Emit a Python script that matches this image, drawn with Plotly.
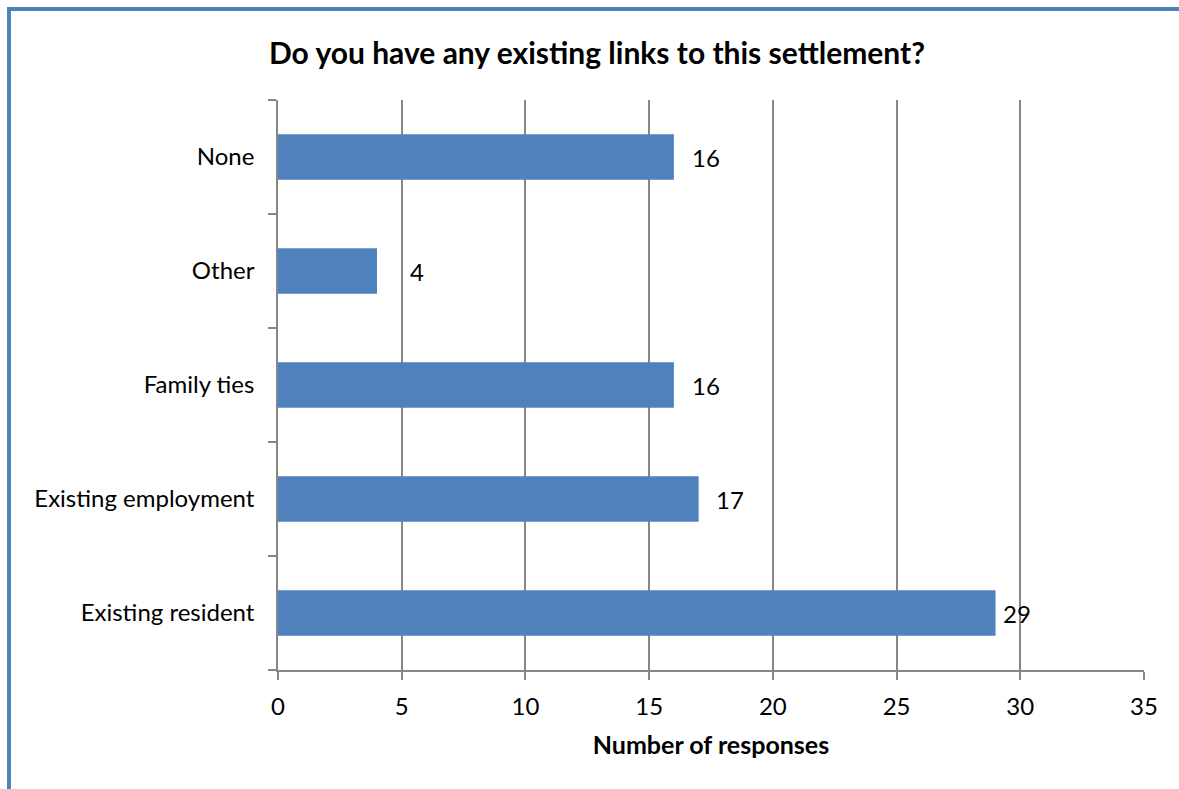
import plotly.graph_objects as go

categories = ["Existing resident", "Existing employment", "Family ties", "Other", "None"]
values = [29, 17, 16, 4, 16]
x_ticks = [0, 5, 10, 15, 20, 25, 30, 35]

W, H = 1179, 789
L, R, T, B = 278, 35, 100, 119
pw, ph = W - L - R, H - T - B

def px_x(p):
    return (p - L) / pw

def px_y(p):
    return (H - B - p) / ph

font_family = "Lato, 'Open Sans', sans-serif"
blue = "#4F81BD"
gray = "#868686"

# pixel gaps between bar end and its data label, as placed in the original
label_gap_px = [5, 15, 16, 31, 16]

fig = go.Figure(go.Bar(
    y=categories, x=values, orientation="h",
    marker=dict(color=blue, line=dict(width=0)),
    width=0.4,
    cliponaxis=False,
))

for cat, v, g in zip(categories, values, label_gap_px):
    fig.add_annotation(x=v, y=cat, xref="x", yref="y", text=str(v),
                       showarrow=False, xanchor="left", yanchor="middle",
                       xshift=g, font=dict(size=24, color="black", family=font_family))

fig.update_layout(
    width=W, height=H,
    margin=dict(l=L, r=R, t=T, b=B),
    paper_bgcolor="white", plot_bgcolor="white",
    showlegend=False,
    font=dict(family=font_family, color="black"),
    title=dict(text="<b>Do you have any existing links to this settlement?</b>",
               x=597 / W, xref="container", xanchor="center",
               y=1 - 53 / H, yref="container", yanchor="middle",
               font=dict(size=30, color="black", family=font_family)),
    xaxis=dict(range=[0, 35], tickvals=x_ticks, ticktext=[str(t) for t in x_ticks],
               showgrid=True, gridcolor=gray, gridwidth=1.5,
               showline=True, linecolor=gray, linewidth=1.5,
               ticks="outside", ticklen=8, tickcolor=gray, tickwidth=1.5,
               tickfont=dict(size=24, color="black"), ticklabelstandoff=6,
               zeroline=False,
               title=dict(text="<b>Number of responses</b>", font=dict(size=25, color="black"), standoff=18)),
    yaxis=dict(categoryorder="array", categoryarray=categories,
               showline=True, linecolor=gray, linewidth=1.5,
               ticks="outside", ticklen=8, tickcolor=gray, tickwidth=1.5,
               tickson="boundaries", showgrid=False,
               tickfont=dict(size=24, color="black"), ticklabelstandoff=17),
    bargap=0.6,
)

# chart frame border (left and top edges visible)
fig.add_shape(type="line", xref="paper", yref="paper",
              x0=px_x(9), x1=px_x(9), y0=px_y(800), y1=px_y(9),
              line=dict(color=blue, width=4), layer="above")
fig.add_shape(type="line", xref="paper", yref="paper",
              x0=px_x(7), x1=px_x(1200), y0=px_y(9), y1=px_y(9),
              line=dict(color=blue, width=4), layer="above")

fig.write_html("out.html")
